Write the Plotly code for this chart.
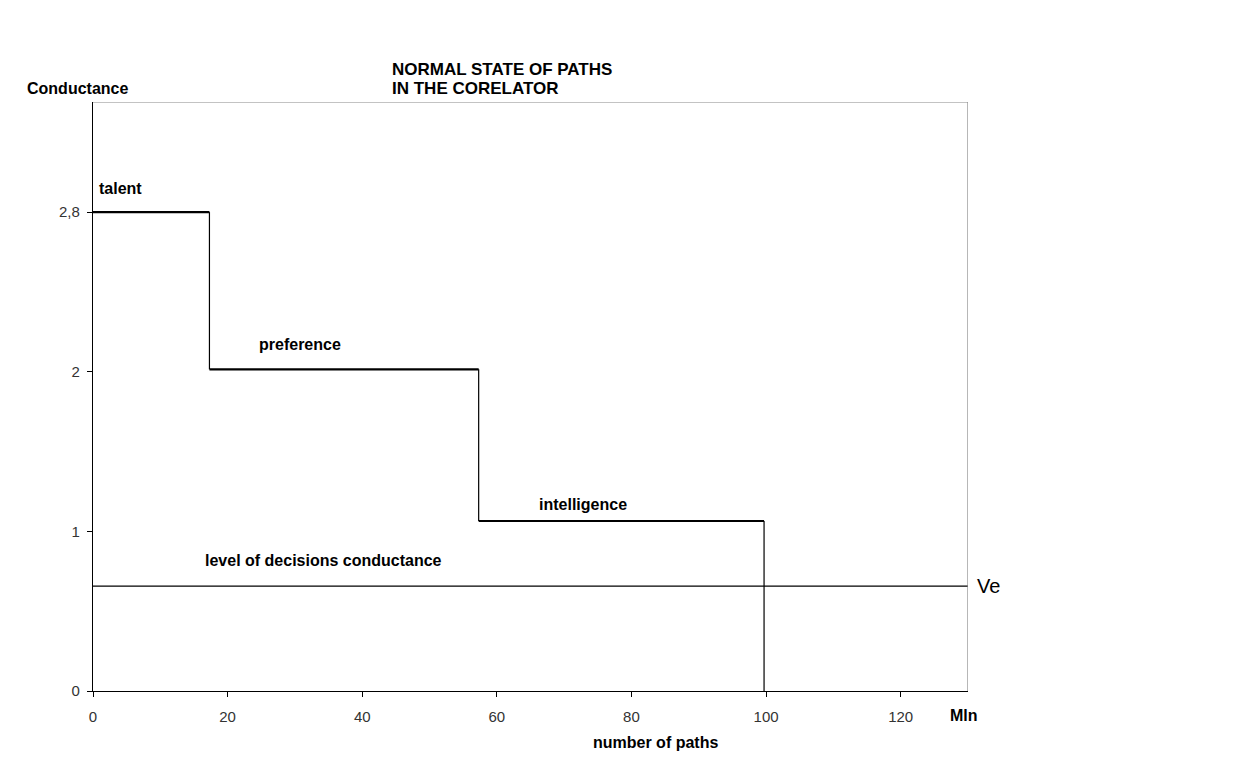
import plotly.graph_objects as go

# ---- data ----
step_edges = [0, 17.3, 57.3, 99.7]          # x boundaries of the steps (Mln paths)
step_levels = [3.0, 2.015, 1.065]            # conductance level of each step
step_names = ["talent", "preference", "intelligence"]
ve_level = 0.657                             # level of decisions conductance
x_max = 130
y_max = 3.69
x_ticks = [0, 20, 40, 60, 80, 100, 120]
y_tickvals = [0, 1, 2, 3]
y_ticktext = ["0", "1", "2", "2,8"]

FONT = "Liberation Sans, Arial, sans-serif"

fig = go.Figure()

# horizontal parts of the steps (thick)
hx, hy = [], []
for i, lvl in enumerate(step_levels):
    hx += [step_edges[i], step_edges[i + 1], None]
    hy += [lvl, lvl, None]
fig.add_trace(go.Scatter(x=hx, y=hy, mode="lines",
                         line=dict(color="black", width=2.2), hoverinfo="skip"))

# vertical drops (thin)
vx, vy = [], []
for i in range(1, len(step_levels)):
    vx += [step_edges[i], step_edges[i], None]
    vy += [step_levels[i - 1], step_levels[i], None]
vx += [step_edges[-1], step_edges[-1], None]
vy += [step_levels[-1], 0, None]
fig.add_trace(go.Scatter(x=vx, y=vy, mode="lines",
                         line=dict(color="black", width=1.2), hoverinfo="skip"))

# Ve line
fig.add_trace(go.Scatter(x=[0, x_max], y=[ve_level, ve_level], mode="lines",
                         line=dict(color="black", width=1.2), hoverinfo="skip"))

# gray plot border (top and right)
fig.add_shape(type="line", xref="x", yref="y", x0=0, x1=x_max, y0=y_max, y1=y_max,
              line=dict(color="#888888", width=1.2))
fig.add_shape(type="line", xref="x", yref="y", x0=x_max, x1=x_max, y0=0, y1=y_max,
              line=dict(color="#888888", width=1.2))

bold = dict(family=FONT, size=16, color="black")

# step labels
label_pos = [(0.55, 3.15), (24.3, 2.17), (65.9, 1.17)]
for name, (lx, ly) in zip(step_names, label_pos):
    fig.add_annotation(x=lx, y=ly, xref="x", yref="y", text=f"<b>{name}</b>",
                       showarrow=False, xanchor="left", yanchor="middle", font=bold)

fig.add_annotation(x=16.4, y=0.82, xref="x", yref="y",
                   text="<b>level of decisions conductance</b>",
                   showarrow=False, xanchor="left", yanchor="middle", font=bold)

fig.add_annotation(x=1.008, y=ve_level, xref="paper", yref="y", text="Ve",
                   showarrow=False, xanchor="left", yanchor="middle",
                   font=dict(family=FONT, size=20, color="black"))

title_font = dict(family=FONT, size=17, color="black")
fig.add_annotation(x=0.339, y=(691 - 70) / 589, xref="paper", yref="paper",
                   text="<b>NORMAL STATE OF PATHS</b>",
                   showarrow=False, xanchor="left", yanchor="middle", font=title_font)
fig.add_annotation(x=0.339, y=(691 - 89) / 589, xref="paper", yref="paper",
                   text="<b>IN THE CORELATOR</b>",
                   showarrow=False, xanchor="left", yanchor="middle", font=title_font)

fig.add_annotation(x=(25 - 93) / 875, y=(691 - 88) / 589, xref="paper", yref="paper",
                   text="<b>Conductance</b>", showarrow=False,
                   xanchor="left", yanchor="middle", font=bold)

fig.add_annotation(x=0.977, y=-0.041, xref="paper", yref="paper",
                   text="<b>Mln</b>", showarrow=False,
                   xanchor="left", yanchor="middle", font=bold)

fig.add_annotation(x=0.643, y=-0.087, xref="paper", yref="paper",
                   text="<b>number of paths</b>", showarrow=False,
                   xanchor="center", yanchor="middle", font=bold)

axis_font = dict(family=FONT, size=15, color="#333333")

# the page places the figure 8px from the top-left corner
fig.update_layout(
    width=1242, height=770,
    margin=dict(l=85, r=282, t=94, b=87),
    paper_bgcolor="white", plot_bgcolor="white",
    showlegend=False,
    xaxis=dict(range=[0, x_max], tickvals=x_ticks, showgrid=False, zeroline=False,
               showline=True, linecolor="black", linewidth=1.2,
               ticks="outside", ticklen=5, tickcolor="black", tickfont=axis_font,
               ticklabelstandoff=7),
    yaxis=dict(range=[0, y_max], tickvals=y_tickvals, ticktext=y_ticktext,
               showgrid=False, zeroline=False,
               showline=True, linecolor="black", linewidth=1.2,
               ticks="outside", ticklen=5, tickcolor="black", tickfont=axis_font,
               ticklabelstandoff=4),
)

fig.write_html("out.html")
